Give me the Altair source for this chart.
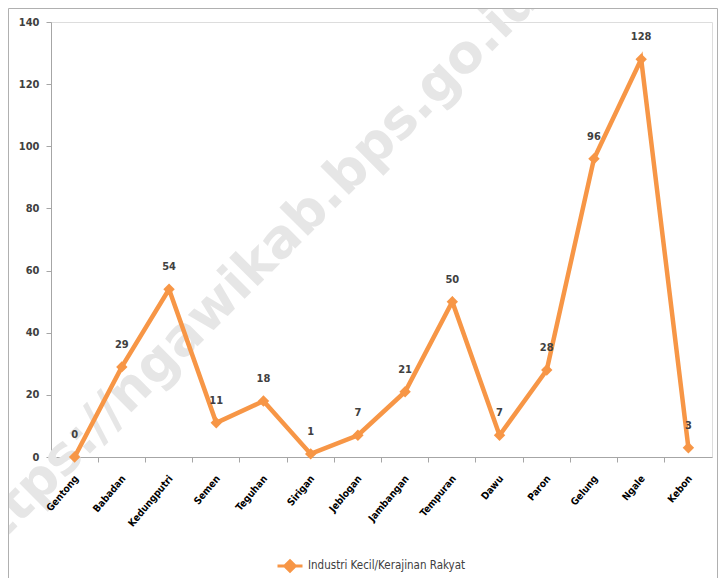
import altair as alt
import pandas as pd

kecamatan = ["Gentong", "Babadan", "Kedungputri", "Semen", "Teguhan", "Sirigan",
             "Jeblogan", "Jambangan", "Tempuran", "Dawu", "Paron", "Gelung",
             "Ngale", "Kebon"]
nilai = [0, 29, 54, 11, 18, 1, 7, 21, 50, 7, 28, 96, 128, 3]
series_name = "Industri Kecil/Kerajinan Rakyat"
y_ticks = [0, 20, 40, 60, 80, 100, 120, 140]
watermark = "https://ngawikab.bps.go.id"

ORANGE = "#F79646"
FONT = "DejaVu Sans Condensed, Roboto, sans-serif"
W, H = 661, 435

df = pd.DataFrame({"kec": kecamatan, "nilai": nilai, "series": [series_name] * len(nilai)})

x_enc = alt.X(
    "kec:N", sort=kecamatan, bandPosition=0.5,
    scale=alt.Scale(type="band", paddingInner=0, paddingOuter=0),
    axis=alt.Axis(title=None, bandPosition=0, labels=False, tickSize=5, ticks=True,
                  domainColor="#a6a6a6", tickColor="#a6a6a6"),
)
y_enc = alt.Y(
    "nilai:Q",
    scale=alt.Scale(domain=[0, 140], nice=False),
    axis=alt.Axis(title=None, values=y_ticks, grid=False, tickSize=5,
                  labelFont=FONT, labelFontSize=11, labelFontWeight="bold",
                  labelColor="#404040", labelPadding=7,
                  domainColor="#a6a6a6", tickColor="#a6a6a6"),
)

base = alt.Chart(df)

border = alt.Chart(pd.DataFrame({"a": [0]})).mark_rect(
    fill="transparent", stroke="#b0b0b0", strokeWidth=1
).encode(x=alt.value(-42.5), x2=alt.value(W + 5.5), y=alt.value(-13.5), y2=alt.value(H + 200))

wm = alt.Chart(pd.DataFrame({"t": [watermark]})).mark_text(
    x=196, y=252, angle=315, fontSize=53, fontWeight="bold", font="DejaVu Sans",
    color="#e6e6e6", align="center", baseline="middle"
).encode(text="t:N")

line = base.mark_line(strokeWidth=4.5).encode(
    x=x_enc, y=y_enc,
    color=alt.Color("series:N", scale=alt.Scale(domain=[series_name], range=[ORANGE]),
                    legend=alt.Legend(title=None, orient="none", legendX=225, legendY=530,
                                      symbolType="M-1,0L1,0M0,-0.42L0.42,0L0,0.42L-0.42,0Z",
                                      symbolSize=625, symbolStrokeWidth=3,
                                      symbolFillColor=ORANGE, symbolStrokeColor=ORANGE,
                                      labelFont=FONT, labelFontSize=11.5, labelColor="#404040",
                                      labelFontWeight="normal", labelLimit=400, padding=0)),
)
pts = base.mark_point(shape="diamond", filled=True, size=130, opacity=1, color=ORANGE).encode(
    x=x_enc, y=y_enc
)
labels = base.mark_text(dy=-22, font=FONT, fontSize=11, fontWeight="bold", color="#404040",
                        baseline="middle").encode(x=x_enc, y=y_enc, text="nilai:Q")

xlabels = base.mark_text(angle=310, align="right", baseline="middle", xOffset=2,
                         font=FONT, fontSize=10, fontWeight="bold", color="#000000").encode(
    x=x_enc, y=alt.value(H + 20), text="kec:N"
)

chart = alt.layer(wm, border, line, pts, labels, xlabels).properties(
    width=W, height=H,
    autosize=alt.AutoSizeParams(type="none"),
    padding={"left": 43, "top": 14, "right": 6, "bottom": 121},
).configure_view(stroke=None).configure(background="white")

chart.save("out.html", embed_options={"renderer": "svg", "actions": False})
